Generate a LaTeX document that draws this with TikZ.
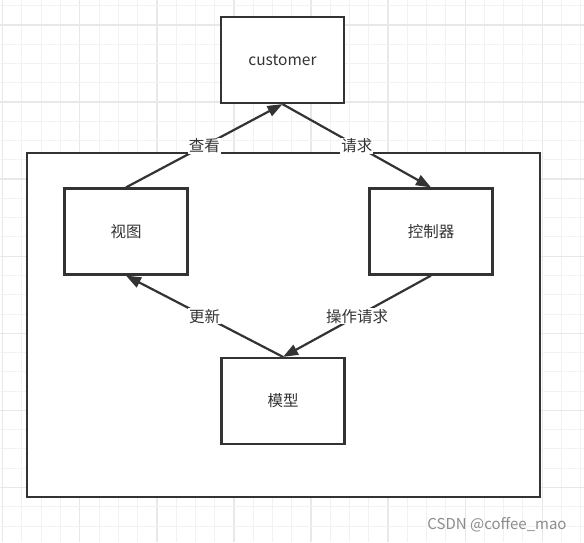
\documentclass[tikz,border=0pt]{standalone}
\usepackage{fontspec}
\setmainfont{Noto Sans CJK SC}
\usetikzlibrary{arrows.meta}
\definecolor{ln}{HTML}{333333}
\definecolor{gridminor}{HTML}{F2F2F2}
\definecolor{gridmajor}{HTML}{E8E8E8}
\begin{document}
\begin{tikzpicture}[x=1pt,y=-1pt,
  box/.style={draw=ln,line width=2.2pt,fill=white,minimum width=123pt,minimum height=86pt,inner sep=0pt,font=\fontsize{15.5}{18}\selectfont,text=ln},
  conn/.style={draw=ln,line width=2.2pt,-{Triangle[length=15pt,width=11pt]}},
  lbl/.style={fill=white,inner sep=1pt,font=\fontsize{15.5}{18}\selectfont,text=ln}]
\useasboundingbox (0,0) rectangle (584,542);
\fill[white] (0,0) rectangle (584,542);
% grid
\foreach \i in {0,...,30} {
  \pgfmathsetmacro{\xx}{2.7+19.27*\i}
  \pgfmathtruncatemacro{\mm}{mod(\i,4)}
  \ifnum\mm=0
    \draw[gridmajor,line width=1.3pt] (\xx,0) -- (\xx,542);
  \else
    \draw[gridminor,line width=1pt] (\xx,0) -- (\xx,542);
  \fi
}
\foreach \j in {0,...,28} {
  \pgfmathsetmacro{\yy}{5.7+19.27*\j}
  \pgfmathtruncatemacro{\mm}{mod(\j,4)}
  \ifnum\mm=1
    \draw[gridmajor,line width=1.3pt] (0,\yy) -- (584,\yy);
  \else
    \draw[gridminor,line width=1pt] (0,\yy) -- (584,\yy);
  \fi
}
% outer frame
\node[draw=ln,line width=2.2pt,fill=white,minimum width=513pt,minimum height=344pt,inner sep=0pt] (frame) at (283.5,325) {};
% boxes
\node[box] (cust) at (282.5,60) {customer};
\node[box] (view) at (126,231.5) {视图};
\node[box] (ctrl) at (431,231.5) {控制器};
\node[box] (model) at (283,401) {模型};
% connectors
\draw[conn] (view.north) -- node[lbl,pos=0.5] (l1) {查看} (cust.south);
\draw[conn] (cust.south) -- node[lbl,pos=0.5] (l2) {请求} (ctrl.north);
\draw[conn] (model.north) -- node[lbl,pos=0.5] (l3) {更新} (view.south);
\draw[conn] (ctrl.south) -- node[lbl,pos=0.5] (l4) {操作请求} (model.north);
% watermark
\node[text=black!45,font=\fontsize{15}{17}\selectfont,inner sep=0pt] (wm) at (497,525) {CSDN @coffee\_mao};
\end{tikzpicture}
\end{document}
